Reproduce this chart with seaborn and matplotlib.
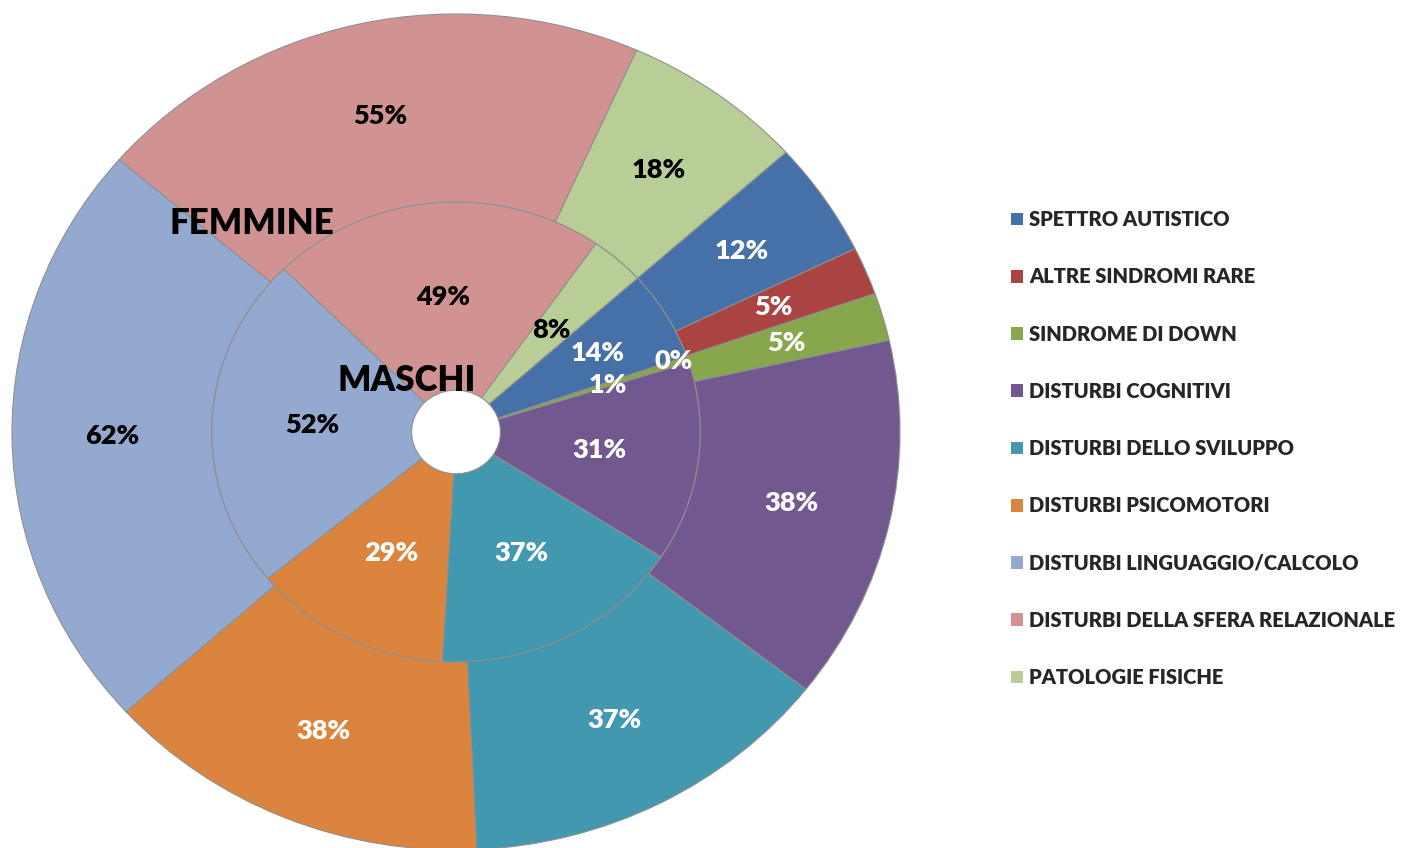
import matplotlib
matplotlib.use("Agg")
import matplotlib.pyplot as plt
import seaborn as sns
import numpy as np
from matplotlib.patches import Patch

# ---------------- data ----------------
categories = ["SPETTRO AUTISTICO", "ALTRE SINDROMI RARE", "SINDROME DI DOWN",
              "DISTURBI COGNITIVI", "DISTURBI DELLO SVILUPPO", "DISTURBI PSICOMOTORI",
              "DISTURBI LINGUAGGIO/CALCOLO", "DISTURBI DELLA SFERA RELAZIONALE",
              "PATOLOGIE FISICHE"]
femmine = [12, 5, 5, 38, 37, 38, 62, 55, 18]   # outer ring
maschi = [14, 0, 1, 31, 37, 29, 52, 49, 8]     # inner ring
ring_names = ["FEMMINE", "MASCHI"]

# ---------------- style ----------------
colors = ["#4571A8", "#A94442", "#88A64C", "#71588F", "#4198AF",
          "#DB843D", "#93A9CF", "#D19392", "#B9CE96"]
dark_text = [False, False, False, False, False, False, True, True, True]

sns.set_theme(style="white")
plt.rcParams["font.family"] = ["Lato", "DejaVu Sans"]
palette = sns.color_palette(colors)

W, H = 1405, 848
fig = plt.figure(figsize=(W / 100, H / 100), dpi=100)
fig.patch.set_facecolor("white")

cx, cy = 456, H - 432
rx, ry = 444, 418
m = 1.1
ax = fig.add_axes([(cx - rx * m) / W, (cy - ry * m) / H, 2 * rx * m / W, 2 * ry * m / H])
edge = dict(edgecolor="#8f8f8f", linewidth=0.8)

w_out, _ = ax.pie(femmine, radius=1.0, startangle=42, counterclock=False,
                  colors=palette, wedgeprops=dict(width=0.45, **edge))
w_in, _ = ax.pie(maschi, radius=0.55, startangle=42, counterclock=False,
                 colors=palette, wedgeprops=dict(width=0.45, **edge))
ax.set_aspect("auto")
ax.set_xlim(-m, m)
ax.set_ylim(-m, m)
ax.axis("off")

WEIGHT = "heavy"


def label_ring(wedges, vals, r, special):
    for i, (w, v) in enumerate(zip(wedges, vals)):
        ang = np.deg2rad((w.theta1 + w.theta2) / 2)
        rr = special.get(i, r)
        ax.text(rr * np.cos(ang), rr * np.sin(ang), f"{v}%", ha="center", va="center",
                fontsize=19.5, fontweight=WEIGHT,
                color="black" if dark_text[i] else "white")


label_ring(w_out, femmine, 0.775, {})
label_ring(w_in, maschi, 0.325, {0: 0.37, 1: 0.52, 2: 0.36})

ax.text(-0.459, 0.498, ring_names[0], ha="center", va="center",
        fontsize=25, fontweight=WEIGHT, color="black")
ax.text(-0.110, 0.124, ring_names[1], ha="center", va="center",
        fontsize=25, fontweight=WEIGHT, color="black")

handles = [Patch(facecolor=c, edgecolor="none") for c in palette]
fig.legend(handles, categories, loc="upper left",
           bbox_to_anchor=(1011 / W, (H - 210) / H), frameon=False,
           prop={"weight": WEIGHT, "size": 14.5},
           handlelength=0.6, handleheight=0.6, handletextpad=0.3,
           labelspacing=1.9, borderpad=0, borderaxespad=0)

fig.savefig("out.png", dpi=100, facecolor="white")
